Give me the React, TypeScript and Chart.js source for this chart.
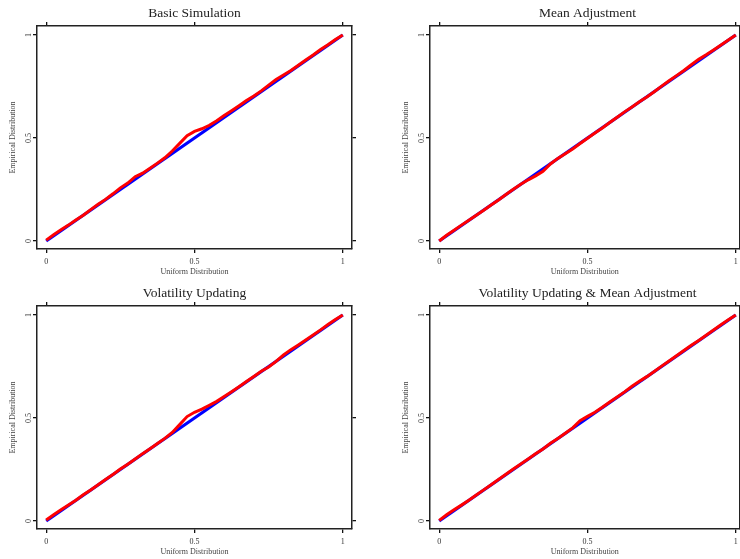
import React, { useEffect, useRef } from "react";
import { Chart, registerables } from "chart.js";

Chart.register(...registerables);

// Uniform quantiles (x) shared by all panels
const uniformQuantiles = [
  0, 0.025, 0.05, 0.075, 0.1, 0.125, 0.15, 0.175, 0.2, 0.225, 0.25, 0.275, 0.3, 0.325,
  0.35, 0.375, 0.4, 0.425, 0.45, 0.475, 0.5, 0.525, 0.55, 0.575, 0.6, 0.625, 0.65, 0.675,
  0.7, 0.725, 0.75, 0.775, 0.8, 0.825, 0.85, 0.875, 0.9, 0.925, 0.95, 0.975, 1,
];

// Empirical distribution (red) for each panel
const basicSimulation = [
  0.004, 0.03, 0.054, 0.077, 0.102, 0.125, 0.152, 0.178, 0.202, 0.229, 0.258, 0.281, 0.312, 0.329,
  0.353, 0.378, 0.404, 0.437, 0.474, 0.511, 0.532, 0.545, 0.562, 0.584, 0.609, 0.633, 0.657, 0.682,
  0.704, 0.729, 0.757, 0.784, 0.806, 0.828, 0.853, 0.879, 0.903, 0.93, 0.953, 0.978, 1.0,
];
const meanAdjustment = [
  0.0, 0.028, 0.052, 0.077, 0.101, 0.125, 0.149, 0.175, 0.199, 0.226, 0.251, 0.275, 0.297, 0.316,
  0.338, 0.374, 0.401, 0.424, 0.447, 0.473, 0.499, 0.524, 0.549, 0.575, 0.601, 0.627, 0.651, 0.676,
  0.699, 0.725, 0.752, 0.778, 0.803, 0.828, 0.856, 0.882, 0.904, 0.928, 0.952, 0.976, 1.0,
];
const volatilityUpdating = [
  0.005, 0.03, 0.054, 0.078, 0.101, 0.127, 0.151, 0.176, 0.201, 0.226, 0.252, 0.276, 0.301, 0.327,
  0.351, 0.376, 0.401, 0.43, 0.468, 0.507, 0.528, 0.543, 0.562, 0.581, 0.604, 0.628, 0.652, 0.677,
  0.702, 0.727, 0.748, 0.775, 0.806, 0.832, 0.855, 0.879, 0.903, 0.928, 0.954, 0.978, 1.0,
];
const volatilityMean = [
  0.003, 0.03, 0.054, 0.077, 0.101, 0.126, 0.151, 0.176, 0.201, 0.227, 0.252, 0.277, 0.301, 0.326,
  0.35, 0.377, 0.401, 0.426, 0.452, 0.487, 0.508, 0.528, 0.552, 0.578, 0.602, 0.627, 0.654, 0.678,
  0.701, 0.726, 0.752, 0.777, 0.802, 0.828, 0.853, 0.877, 0.902, 0.927, 0.953, 0.977, 1.0,
];

// Theoretical (blue) 45-degree line
const diagonalX = [0, 1];
const diagonalY = [0, 1];

const tickValues = [0, 0.5, 1];
const tickLabels = ["0", "0.5", "1"];

const panelTitles = [
  "Basic Simulation",
  "Mean Adjustment",
  "Volatility Updating",
  "Volatility Updating & Mean Adjustment",
];
const xAxisTitle = "Uniform Distribution";
const yAxisTitle = "Empirical Distribution";

const SERIF = "'Liberation Serif', 'Times New Roman', Times, serif";

const titlePlugin = {
  id: "panelTitle",
  afterDraw(chart: any, _args: any, opts: any) {
    const { ctx } = chart;
    const x = chart.scales.x.getPixelForValue(0.5);
    ctx.save();
    ctx.font = `13.5px ${SERIF}`;
    ctx.fillStyle = "#222";
    ctx.textAlign = "center";
    ctx.textBaseline = "middle";
    ctx.fillText(opts.text, x, 13.5);
    ctx.restore();
  },
};

type PanelProps = {
  title: string;
  values: number[];
  left: number;
  top: number;
  xMax: number;
  rightWidth: number;
};

function Panel({ title, values, left, top, xMax, rightWidth }: PanelProps) {
  const ref = useRef<HTMLCanvasElement>(null);
  useEffect(() => {
    const canvas = ref.current!;
    const points = uniformQuantiles.map((x, i) => ({ x, y: values[i] }));
    const diag = diagonalX.map((x, i) => ({ x, y: diagonalY[i] }));
    const tickFont = { family: SERIF, size: 8 };
    const setTicks = (s: any) => {
      s.ticks = tickValues.map((v) => ({ value: v }));
    };
    const label = (v: any) => {
      const i = tickValues.indexOf(Number(v));
      return i >= 0 ? tickLabels[i] : "";
    };
    const grid = {
      drawOnChartArea: false,
      drawTicks: true,
      tickLength: 4,
      color: "#111",
      lineWidth: 1.3,
    };
    const border = { display: true, color: "#222", width: 1.5 };
    const xMin = -0.031;
    const yMin = -0.039;
    const yMax = 1.044;

    const chart = new Chart(canvas, {
      type: "scatter",
      data: {
        datasets: [
          {
            data: points,
            showLine: true,
            borderColor: "#ff0000",
            backgroundColor: "#ff0000",
            borderWidth: 3,
            pointRadius: 0,
            tension: 0,
            order: 0,
          },
          {
            data: diag,
            showLine: true,
            borderColor: "#0000ff",
            backgroundColor: "#0000ff",
            borderWidth: 3.2,
            pointRadius: 0,
            order: 1,
          },
        ],
      },
      options: {
        responsive: false,
        animation: false,
        layout: { padding: 0 },
        plugins: {
          legend: { display: false },
          tooltip: { enabled: false },
          title: { display: false },
          panelTitle: { text: title },
        } as any,
        scales: {
          x: {
            type: "linear",
            position: "bottom",
            min: xMin,
            max: xMax,
            afterBuildTicks: setTicks,
            afterFit: (s: any) => {
              s.height = 31;
            },
            ticks: {
              font: tickFont,
              color: "#333",
              padding: 4,
              maxRotation: 0,
              autoSkip: false,
              callback: label,
            },
            grid,
            border,
            title: {
              display: true,
              text: xAxisTitle,
              font: { family: SERIF, size: 8 },
              color: "#444",
              padding: { top: 0, bottom: 3 },
            },
          },
          x2: {
            type: "linear",
            position: "top",
            min: xMin,
            max: xMax,
            afterBuildTicks: setTicks,
            afterFit: (s: any) => {
              s.height = 26;
            },
            ticks: { display: false },
            grid,
            border,
          },
          y: {
            type: "linear",
            position: "left",
            min: yMin,
            max: yMax,
            afterBuildTicks: setTicks,
            afterFit: (s: any) => {
              s.width = 37;
            },
            ticks: {
              font: tickFont,
              color: "#333",
              padding: -1,
              minRotation: 90,
              maxRotation: 90,
              crossAlign: "center",
              autoSkip: false,
              callback: label,
            },
            grid,
            border,
            title: {
              display: true,
              text: yAxisTitle,
              font: { family: SERIF, size: 8 },
              color: "#444",
              padding: { top: 8.2, bottom: 0 },
            },
          },
          y2: {
            type: "linear",
            position: "right",
            min: yMin,
            max: yMax,
            afterBuildTicks: setTicks,
            afterFit: (s: any) => {
              s.width = rightWidth;
            },
            ticks: { display: false },
            grid,
            border,
          },
        },
      } as any,
      plugins: [titlePlugin],
    });
    return () => chart.destroy();
  }, []);
  return (
    <canvas
      ref={ref}
      width={370}
      height={280}
      style={{ position: "absolute", left, top, width: 370, height: 280, display: "block" }}
    />
  );
}

export default function App() {
  return (
    <div
      style={{
        position: "fixed",
        left: 0,
        top: 0,
        width: 740,
        height: 559,
        overflow: "hidden",
        background: "#fff",
      }}
    >
      <Panel title={panelTitles[0]} values={basicSimulation} left={0} top={0} xMax={1.031} rightWidth={18} />
      <Panel title={panelTitles[1]} values={meanAdjustment} left={393} top={0} xMax={1.0125} rightWidth={23.5} />
      <Panel title={panelTitles[2]} values={volatilityUpdating} left={0} top={280} xMax={1.031} rightWidth={18} />
      <Panel title={panelTitles[3]} values={volatilityMean} left={393} top={280} xMax={1.0125} rightWidth={23.5} />
    </div>
  );
}
